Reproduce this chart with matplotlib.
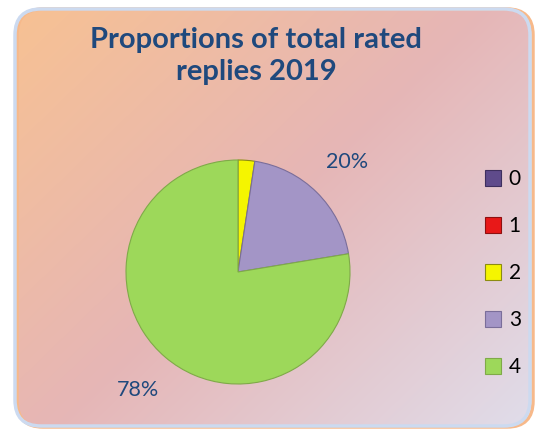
import numpy as np
import matplotlib
matplotlib.use('Agg')
import matplotlib.pyplot as plt
from matplotlib.patches import FancyBboxPatch
from matplotlib.colors import to_rgb

# chart data
categories = ['0', '1', '2', '3', '4']
shares = [0.0, 0.0, 2.4, 20.0, 77.6]
slice_colors = ['#5F4B8B', '#E81818', '#F5F500', '#A395C6', '#9DD85A']
edge_colors = ['#3E2F5E', '#8E1010', '#8C8C10', '#7A6E9A', '#7FAA48']
title = 'Proportions of total rated\nreplies 2019'

W, H = 540, 429
fig = plt.figure(figsize=(W / 100, H / 100), dpi=100)
fig.patch.set_facecolor('white')

# background panel with diagonal gradient
bg = fig.add_axes([0, 0, 1, 1])
bg.set_xlim(0, W)
bg.set_ylim(H, 0)
bg.axis('off')

stops = [to_rgb('#F8C291'), to_rgb('#E6B6B6'), to_rgb('#E0DEEC')]
yy, xx = np.mgrid[0:H, 0:W]
t = (xx / W * 0.55 + yy / H * 0.45)
img = np.zeros((H, W, 3))
for c in range(3):
    img[..., c] = np.interp(t, [0, 0.5, 1.0], [s[c] for s in stops])

shadow = FancyBboxPatch((17, 9), 516, 418, boxstyle='round,pad=0,rounding_size=26',
                        facecolor='none', edgecolor='#F7B98A', linewidth=2.5)
bg.add_patch(shadow)
panel = FancyBboxPatch((15, 9), 515, 417, boxstyle='round,pad=0,rounding_size=26',
                       facecolor='none', edgecolor='#CCDAF0', linewidth=2.5)
bg.add_patch(panel)
im = bg.imshow(img, extent=(0, W, H, 0), zorder=0)
im.set_clip_path(panel)

fig.text(256 / W, 1 - 56 / H, title, ha='center', va='center', fontsize=21,
         fontweight='bold', color='#1F497D', family='Lato', linespacing=1.3)

# pie
cx, cy, r = 238, 272, 112
half = 120
ax = fig.add_axes([(cx - half) / W, (H - cy - half) / H, 2 * half / W, 2 * half / H])
ax.set_aspect('equal')
ax.axis('off')

wedges, texts, autotexts = ax.pie(
    shares, colors=slice_colors, startangle=90, counterclock=False,
    autopct=lambda p: '%.0f%%' % p if p >= 5 else '', pctdistance=1.38,
    wedgeprops=dict(linewidth=0.8), radius=1,
    textprops=dict(fontsize=15.5, color='#1F497D', family='Lato'))
for w, ec in zip(wedges, edge_colors):
    w.set_edgecolor(ec)
ax.set_xlim(-half / r, half / r)
ax.set_ylim(-half / r, half / r)

leg = fig.legend(wedges, categories, loc='center left',
                 bbox_to_anchor=(466 / W, 1 - 273 / H), frameon=False,
                 handlelength=0.8, handleheight=0.8, handletextpad=0.35,
                 labelspacing=1.3, prop=dict(family='Lato', size=15))
for txt in leg.get_texts():
    txt.set_color('black')

fig.savefig('out.png', dpi=100)
